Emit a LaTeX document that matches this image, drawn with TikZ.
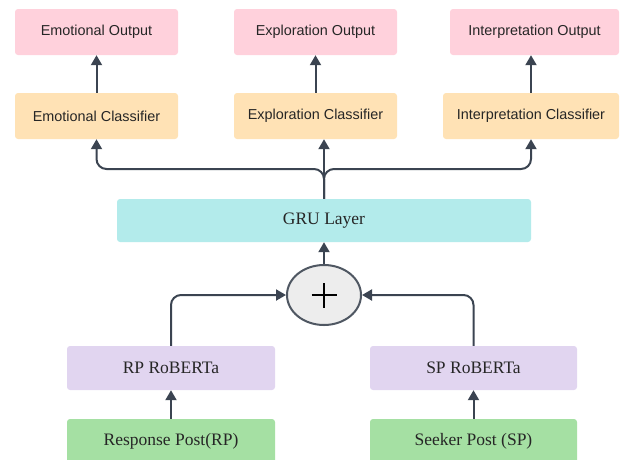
\documentclass[tikz,border=0pt]{standalone}
\usepackage{fontspec}
\setmainfont{Liberation Serif}
\setsansfont{Liberation Sans}
\usetikzlibrary{arrows.meta, shapes.geometric}

\definecolor{outpink}{HTML}{FFD1DC}
\definecolor{clsorange}{HTML}{FFE2B5}
\definecolor{grucyan}{HTML}{B3EBEB}
\definecolor{robpurple}{HTML}{E1D5F0}
\definecolor{postgreen}{HTML}{A5E0A3}
\definecolor{linkgray}{HTML}{3B4451}

\begin{document}
\begin{tikzpicture}[
    x=1pt, y=-1pt,
    box/.style={rectangle, rounded corners=3pt, inner sep=0pt, minimum height=46pt, text=black!85},
    outbox/.style={box, fill=outpink, font=\sffamily\fontsize{14.4}{16}\selectfont},
    clsbox/.style={box, fill=clsorange, font=\sffamily\fontsize{14.4}{16}\selectfont},
    layerbox/.style={box, minimum height=44pt, font=\fontsize{17.5}{20}\selectfont},
    link/.style={draw=linkgray, line width=2pt, -{Triangle[length=10pt, width=11pt]}},
    sumnode/.style={ellipse, draw=linkgray!90, line width=2pt, fill=black!7,
        minimum width=74pt, minimum height=60pt, inner sep=0pt}, % Summenknoten
    plusbar/.style={draw=black, line width=2.6pt}
]
\useasboundingbox (0,0) rectangle (623,459);
\clip (0,0) rectangle (623,459);

\node[outbox, minimum width=163pt] (eout) at (96.5,32) {Emotional Output};
\node[outbox, minimum width=163pt] (xout) at (315.5,32) {Exploration Output};
\node[outbox, minimum width=169pt] (iout) at (534.5,32) {Interpretation Output};

\node[clsbox, minimum width=163pt] (ecls) at (96.5,116) {Emotional Classifier};
\node[clsbox, minimum width=163pt] (xcls) at (315.5,116) {Exploration Classifier};
\node[clsbox, minimum width=176pt] (icls) at (531,116) {Interpretation Classifier};

\node[layerbox, fill=grucyan, minimum width=414pt, minimum height=43pt] (gru) at (324,220.5) {GRU Layer};
\node[sumnode] (plus) at (324,295) {};
\draw[plusbar] ([xshift=-12.5pt]plus.center) -- ([xshift=12.5pt]plus.center);
\draw[plusbar] ([yshift=-12.5pt]plus.center) -- ([yshift=12.5pt]plus.center);

\node[layerbox, fill=robpurple, minimum width=208pt] (rprob) at (171,368) {RP RoBERTa};
\node[layerbox, fill=robpurple, minimum width=207pt] (sprob) at (473.5,368) {SP RoBERTa};
\node[layerbox, fill=postgreen, minimum width=208pt] (rpost) at (171,441) {Response Post(RP)};
\node[layerbox, fill=postgreen, minimum width=207pt] (spost) at (473.5,441) {Seeker Post (SP)};

\coordinate (fork) at (324,169);

\draw[link] (ecls.north) -- (ecls.north |- eout.south);
\draw[link] (xcls.north) -- (xcls.north |- xout.south);
\draw[link] (icls.north) -- (icls.north |- iout.south);

\draw[link, rounded corners=10pt] (gru.north) -- (fork) -| (ecls.south);
\draw[link] (gru.north) -- (gru.north |- xcls.south);
\draw[link, rounded corners=10pt] (gru.north) -- (fork) -| (icls.south);

\draw[link] (plus.north) -- (gru.south);
\draw[link, rounded corners=10pt] (rprob.north) |- (plus.west);
\draw[link, rounded corners=10pt] (sprob.north) |- (plus.east);

\draw[link] (rpost.north) -- (rprob.south);
\draw[link] (spost.north) -- (sprob.south);

\end{tikzpicture}
\end{document}
